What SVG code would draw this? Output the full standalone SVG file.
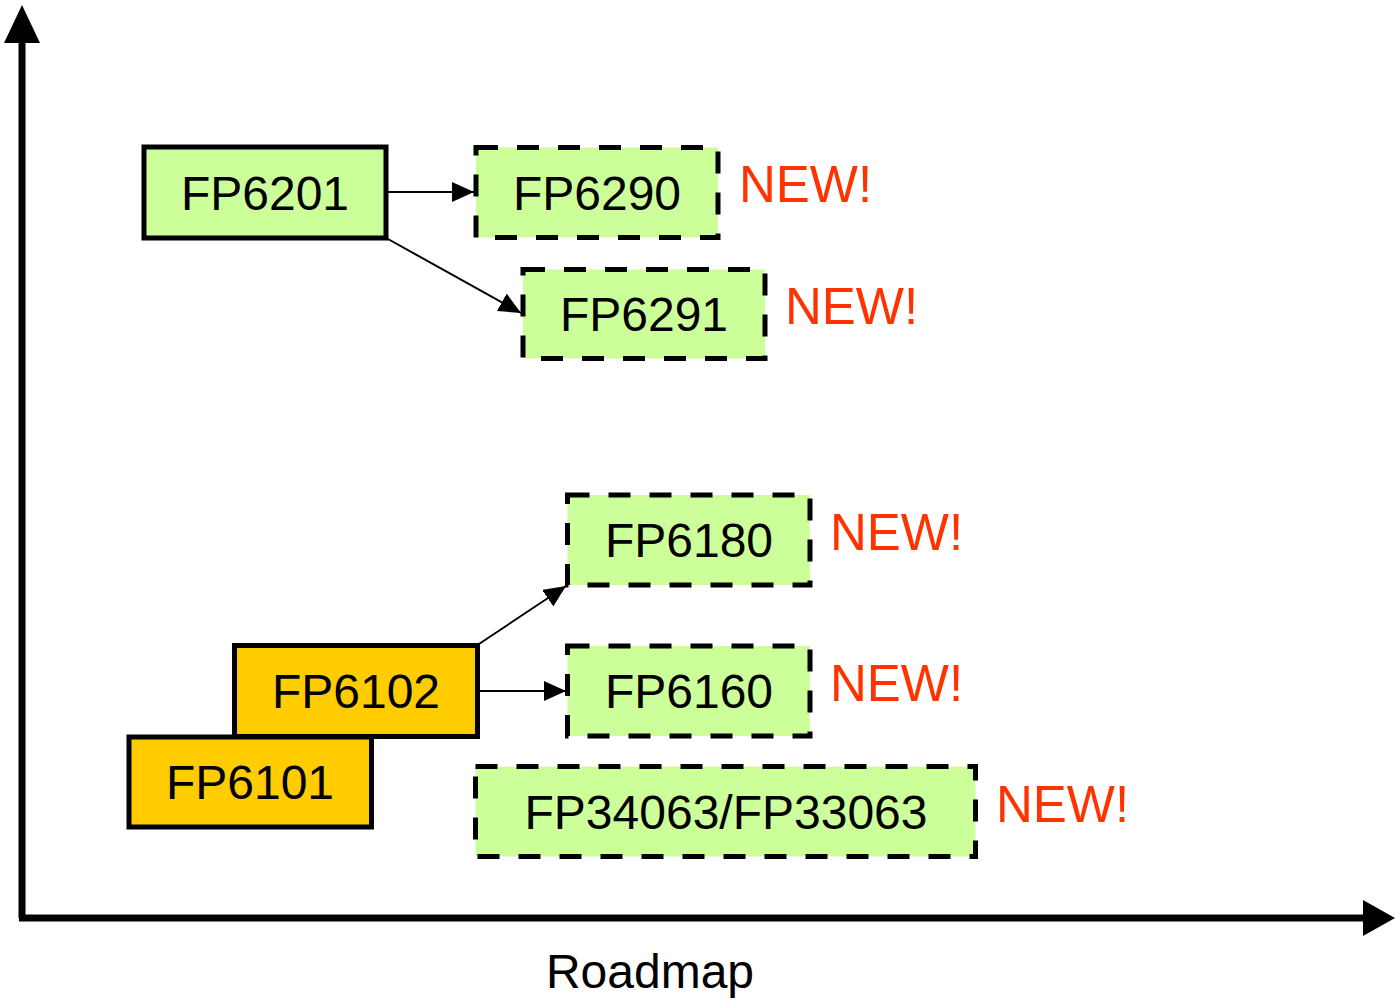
<svg xmlns="http://www.w3.org/2000/svg" width="1395" height="1000" viewBox="0 0 1395 1000">
  <style>
    .box { stroke: #000; stroke-width: 5; }
    .solid { fill: #CCFF99; }
    .old { fill: #FFCC00; }
    .dash { fill: #CCFF99; stroke-dasharray: 22 19; }
    .lbl { font-family: "Liberation Sans", Arial, sans-serif; font-size: 48px; fill: #000; text-anchor: middle; }
    .new { font-family: "Liberation Sans", Arial, sans-serif; font-size: 51px; fill: #FF3300; }
    .conn { stroke: #000; stroke-width: 2; fill: none; marker-end: url(#arr); }
    .axis { stroke: #000; stroke-width: 7; fill: none; }
  </style>
  <defs>
    <marker id="arr" markerUnits="userSpaceOnUse" markerWidth="22" markerHeight="20" refX="22" refY="10" orient="auto">
      <path d="M0,0 L22,10 L0,20 z" fill="#000"/>
    </marker>
  </defs>
  <rect width="1395" height="1000" fill="#fff"/>

  <g id="axes">
    <line class="axis" x1="22" y1="918" x2="22" y2="40"/>
    <line class="axis" x1="19" y1="918" x2="1365" y2="918"/>
    <polygon points="22,5 40,43 4,43" fill="#000"/>
    <polygon points="1395,918 1363,900 1363,936" fill="#000"/>
    <text class="lbl" x="650" y="988">Roadmap</text>
  </g>

  <g id="FP6201">
    <rect class="box solid" x="144" y="147" width="242" height="91"/>
    <text class="lbl" x="265" y="210">FP6201</text>
  </g>
  <g id="FP6290">
    <rect class="box dash" x="476" y="147.5" width="242" height="90"/>
    <text class="lbl" x="597" y="210">FP6290</text>
    <text class="new" x="739" y="202">NEW!</text>
  </g>
  <g id="FP6291">
    <rect class="box dash" x="523" y="269.5" width="242" height="89"/>
    <text class="lbl" x="644" y="331">FP6291</text>
    <text class="new" x="785" y="324">NEW!</text>
  </g>
  <g id="FP6180">
    <rect class="box dash" x="567.5" y="495" width="242.5" height="90"/>
    <text class="lbl" x="689" y="557">FP6180</text>
    <text class="new" x="830" y="550">NEW!</text>
  </g>
  <g id="FP6160">
    <rect class="box dash" x="567.5" y="646" width="242.5" height="90"/>
    <text class="lbl" x="689" y="708">FP6160</text>
    <text class="new" x="830" y="701">NEW!</text>
  </g>
  <g id="FP34063">
    <rect class="box dash" x="475.5" y="766.5" width="500" height="90"/>
    <text class="lbl" x="726" y="829">FP34063/FP33063</text>
    <text class="new" x="996" y="822">NEW!</text>
  </g>
  <g id="FP6102">
    <rect class="box old" x="234.5" y="645.5" width="243" height="91"/>
    <text class="lbl" x="356" y="708">FP6102</text>
  </g>
  <g id="FP6101">
    <rect class="box old" x="129" y="737" width="242.5" height="90"/>
    <text class="lbl" x="250" y="799">FP6101</text>
  </g>

  <g id="connectors">
    <line class="conn" x1="387" y1="192" x2="474" y2="192"/>
    <line class="conn" x1="388" y1="239" x2="521" y2="313"/>
    <line class="conn" x1="479" y1="644" x2="566" y2="586"/>
    <line class="conn" x1="479" y1="691" x2="566" y2="691"/>
  </g>
</svg>
